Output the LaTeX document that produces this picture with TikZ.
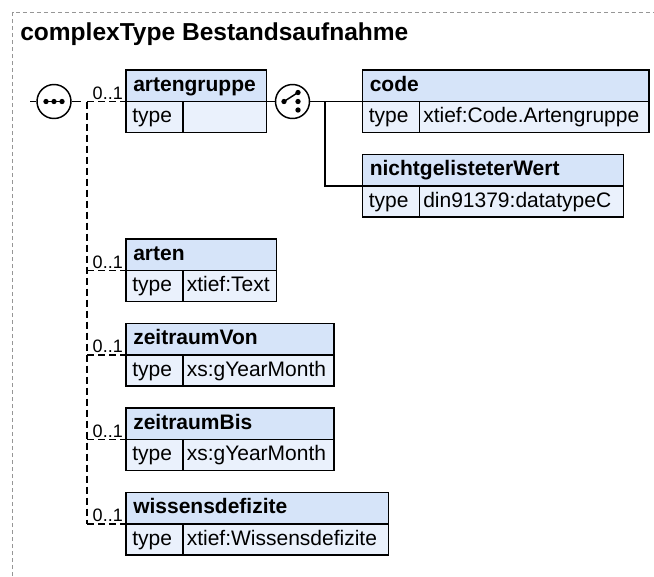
\documentclass[tikz,border=0pt]{standalone}
\usepackage{fontspec}
\setmainfont{Liberation Sans}
\usetikzlibrary{calc}
\definecolor{hdrblue}{RGB}{214,228,249}
\definecolor{rowblue}{RGB}{234,241,252}
\definecolor{bordergray}{RGB}{150,150,150}
\newcommand\boxfont{\fontsize{15.75}{18}\selectfont}
\newcommand\multfont{\fontsize{13.5}{16}\selectfont}
\tikzset{
  px/.style={x=0.75pt,y=-0.75pt},
  cellbase/.style={draw=black, line width=1.1pt, anchor=north west, outer sep=0pt, inner sep=0pt},
  hdr/.style={cellbase, fill=hdrblue, minimum height=31.5*0.75pt},
  rowcell/.style={cellbase, fill=rowblue, minimum height=31*0.75pt},
  txt/.style={anchor=base west, inner sep=0pt, font=\boxfont},
  conn/.style={line width=1.1pt},
  dconn/.style={line width=1.1pt, dash pattern=on 5.25pt off 3pt},
  mult/.style={font=\multfont, inner sep=0pt, anchor=base east},
  compositor/.style={circle, draw, line width=1.1pt, fill=white, minimum size=34*0.75pt, inner sep=0pt}
}
\newcommand\xsdbox[6]{%
  \node[hdr, minimum width=#4*0.75pt] (#1) at (#2,#3) {};
  \node[txt, font=\boxfont\bfseries] at ([xshift=7*0.75pt, yshift=-21*0.75pt]#1.north west) {#5};
  \node[rowcell, minimum width=57*0.75pt] (#1-t) at (#1.south west) {};
  \node[txt] at ([xshift=6*0.75pt, yshift=-21*0.75pt]#1-t.north west) {type};
  \node[rowcell, minimum width=(#4-57)*0.75pt] (#1-v) at (#1-t.north east) {};
  \node[txt] at ([xshift=3.5*0.75pt, yshift=-21*0.75pt]#1-v.north west) {#6};
}
\begin{document}
\begin{tikzpicture}[px]
\useasboundingbox (0,0) rectangle (654,576);
\draw[bordergray, line width=0.75pt, dash pattern=on 3pt off 2.25pt] (12.5,576) -- (12.5,12.5) -- (654,12.5);
\node[anchor=base west, inner sep=0pt, font=\fontsize{18.4}{22}\selectfont\bfseries] (title) at (20,40) {complexType Bestandsaufnahme};

% boxes
\xsdbox{artengruppe}{126}{70}{140.7}{artengruppe}{}
\xsdbox{code}{362.5}{70}{286.5}{code}{xtief:Code.Artengruppe}
\xsdbox{nicht}{362.5}{154.5}{260.8}{nichtgelisteterWert}{din91379:datatypeC}
\xsdbox{arten}{126}{239}{150.7}{arten}{xtief:Text}
\xsdbox{zvon}{126}{323.5}{208}{zeitraumVon}{xs:gYearMonth}
\xsdbox{zbis}{126}{408}{208}{zeitraumBis}{xs:gYearMonth}
\xsdbox{wiss}{126}{492.5}{262.3}{wissensdefizite}{xtief:Wissensdefizite}

% sequence compositor
\node[compositor] (seq) at (54,101.5) {};
\draw[conn] ($(seq.center)+(-8,0)$) -- ($(seq.center)+(8,0)$);
\foreach \d in {-8,0,8} \fill ($(seq.center)+(\d,0)$) circle (2pt);

% choice compositor
\node[compositor] (choice) at (292.5,101.5) {};
\draw[conn] ($(choice.center)+(-8.5,0)$) -- ($(choice.center)+(5.5,-9)$);
\foreach \a/\b in {-8.5/0,5.5/-9,5.5/0,5.5/8.5} \fill ($(choice.center)+(\a,\b)$) circle (2pt);

% connectors
\coordinate (ctin) at (30,101.5);
\draw[conn] (ctin) -- (seq.west);
\coordinate (seqout) at (80.5,101.5);
\draw[conn] (seq.east) -- (seqout);
\coordinate (bus) at (87,101.5);
\draw[dconn] (bus) -- (bus |- wiss.south west);
\foreach \n in {artengruppe,arten,zvon,zbis,wiss}
  \draw[dconn] (bus |- \n.south west) -- (\n.south west)
    node[mult, pos=1, xshift=-2.5*0.75pt, yshift=2.5*0.75pt] {0..1};

\draw[conn] (artengruppe.south east) -- (choice.west);
\draw[conn] (choice.east) -- (code.south west);
\coordinate (cbus) at (325,101.5);
\draw[conn] (cbus) |- (nicht.south west);
\end{tikzpicture}
\end{document}
